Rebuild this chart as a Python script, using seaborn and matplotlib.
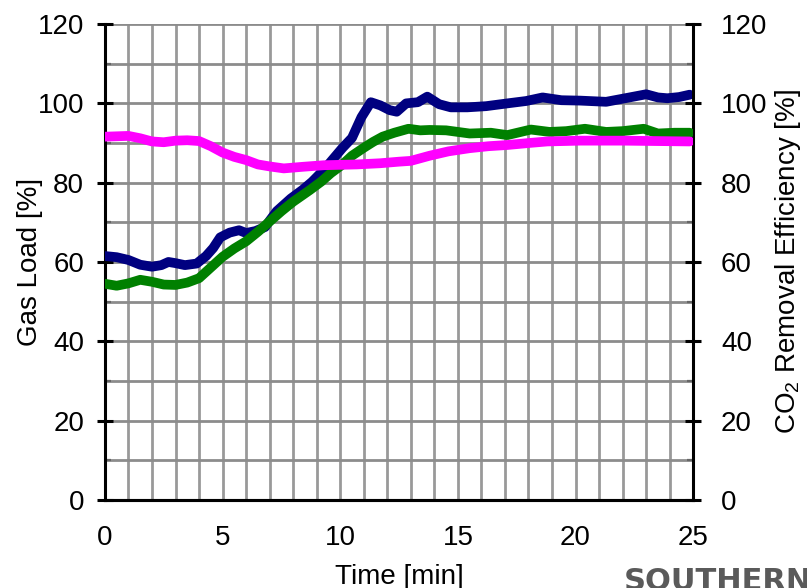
import numpy as np
import pandas as pd
import matplotlib
matplotlib.use("Agg")
import matplotlib.pyplot as plt
import seaborn as sns
from matplotlib.ticker import MultipleLocator

# gas load (left axis)
load_t = [0, 0.5, 1.0, 1.5, 2.0, 2.4, 2.7, 3.0, 3.4, 3.9, 4.3, 4.6, 4.9, 5.3, 5.7,
          6.0, 6.4, 6.8, 7.3, 7.9, 8.4, 8.8, 9.3, 9.7, 10.1, 10.5, 10.9, 11.3,
          11.7, 12.1, 12.4, 12.8, 13.3, 13.7, 14.2, 14.7, 15.4, 16.2, 17.1, 17.9,
          18.6, 19.4, 20.2, 21.3, 22.2, 23.0, 23.5, 23.9, 24.4, 24.85]
load_v = [61.5, 61.2, 60.5, 59.3, 58.8, 59.2, 60.0, 59.7, 59.2, 59.6, 61.5, 63.5,
          66.2, 67.4, 68.0, 67.3, 67.8, 68.8, 72.8, 76.0, 78.2, 80.2, 83.2, 86.0,
          88.8, 91.3, 96.5, 100.3, 99.5, 98.3, 97.9, 100.0, 100.3, 101.7, 99.8,
          99.0, 99.0, 99.3, 100.0, 100.6, 101.5, 100.8, 100.7, 100.4, 101.4, 102.3,
          101.5, 101.3, 101.6, 102.2]

# CO2 removal efficiency (right axis), green series
eff_g_t = [0, 0.5, 1.0, 1.5, 2.0, 2.5, 3.0, 3.5, 4.0, 4.5, 5.0, 5.5, 6.0, 6.5, 7.0,
           7.5, 8.0, 8.7, 9.2, 9.6, 10.1, 10.5, 11.0, 11.4, 11.8, 12.3, 12.9, 13.4,
           13.8, 14.5, 15.5, 16.4, 17.1, 18.1, 18.9, 19.6, 20.4, 21.3, 22.0, 22.9,
           23.5, 24.2, 24.85]
eff_g_v = [54.5, 54.0, 54.6, 55.5, 55.0, 54.3, 54.2, 54.8, 55.9, 58.6, 61.3, 63.4,
           65.2, 67.6, 70.2, 72.8, 75.2, 78.1, 80.3, 82.4, 84.6, 86.8, 88.8, 90.3,
           91.6, 92.6, 93.6, 93.2, 93.3, 93.2, 92.4, 92.6, 92.0, 93.4, 92.8, 93.0,
           93.6, 92.8, 93.0, 93.6, 92.4, 92.6, 92.6]

# magenta series
eff_m_t = [0, 0.5, 1.0, 1.5, 2.0, 2.5, 3.0, 3.5, 4.0, 4.5, 5.0, 5.5, 6.0, 6.5, 7.0,
           7.6, 8.4, 9.3, 10.7, 11.7, 12.5, 13.0, 13.8, 14.6, 15.5, 16.3, 17.1,
           18.0, 18.8, 20.2, 22.0, 24.85]
eff_m_v = [91.6, 91.7, 91.8, 91.2, 90.4, 90.2, 90.6, 90.7, 90.5, 89.2, 87.6, 86.5,
           85.7, 84.6, 84.1, 83.6, 84.0, 84.4, 84.6, 84.9, 85.3, 85.5, 86.8, 87.9,
           88.7, 89.2, 89.5, 90.0, 90.4, 90.6, 90.6, 90.4]

sns.set_theme(style="white")
plt.rcParams['font.family'] = ['Liberation Sans', 'DejaVu Sans']
plt.rcParams['mathtext.default'] = 'regular'
plt.rcParams['text.color'] = 'black'
plt.rcParams['axes.labelcolor'] = 'black'

fig = plt.figure(figsize=(8.07, 5.88), dpi=100)
ax = fig.add_axes([0.130, 0.150, 0.729, 0.809])
ax2 = ax.twinx()

df_load = pd.DataFrame({'t': load_t, 'v': load_v})
df_g = pd.DataFrame({'t': eff_g_t, 'v': eff_g_v})
df_m = pd.DataFrame({'t': eff_m_t, 'v': eff_m_v})

sns.lineplot(data=df_load, x='t', y='v', ax=ax, color='#000080', lw=7,
             solid_capstyle='round', zorder=3)
sns.lineplot(data=df_g, x='t', y='v', ax=ax2, color='#008000', lw=7,
             solid_capstyle='round', zorder=3)
sns.lineplot(data=df_m, x='t', y='v', ax=ax2, color='#FF00FF', lw=7,
             solid_capstyle='round', zorder=4)

for a in (ax, ax2):
    a.set_xlim(0, 25)
    a.set_ylim(0, 120)
    a.yaxis.set_major_locator(MultipleLocator(20))
    a.yaxis.set_minor_locator(MultipleLocator(10))
    a.spines['top'].set_visible(False)
    for s in a.spines.values():
        s.set_color('black')
        s.set_linewidth(2.2)

ax.xaxis.set_major_locator(MultipleLocator(5))
ax.xaxis.set_minor_locator(MultipleLocator(1))

# grid
ax.grid(which='both', axis='x', color='#999999', lw=2.0)
ax.grid(which='both', axis='y', color='#8c8c8c', lw=2.0)
ax.set_axisbelow(True)
ax2.grid(False)

ax.tick_params(axis='both', which='major', direction='inout', length=12, width=2.2,
               color='black', labelcolor='black', labelsize=20, pad=9)
ax.tick_params(axis='x', which='minor', length=0)
ax.tick_params(axis='y', which='minor', direction='in', length=4, width=1.6, color='#666666')
ax.tick_params(axis='x', pad=12)
ax2.tick_params(axis='y', which='major', direction='inout', length=12, width=2.2,
                color='black', labelcolor='black', labelsize=20, pad=14)
ax2.tick_params(axis='y', which='minor', direction='in', length=4, width=1.6, color='#666666')
ax.spines['right'].set_visible(False)
ax2.spines['left'].set_visible(False)

ax.set_xlabel('Time [min]', fontsize=20)
ax.set_ylabel('Gas Load [%]', fontsize=20)
ax2.set_ylabel('CO$_2$ Removal Efficiency [%]', fontsize=20)
ax.xaxis.set_label_coords(0.5, -0.135)
ax.yaxis.set_label_coords(-0.105, 0.5)
ax2.yaxis.set_label_coords(1.135, 0.5)

fig.text(0.773, 0.035, 'SOUTHERN', fontsize=22, fontweight='heavy', color='#5a5a5a',
         ha='left', va='top', family=['DejaVu Sans'])

fig.savefig('out.png', dpi=100)
